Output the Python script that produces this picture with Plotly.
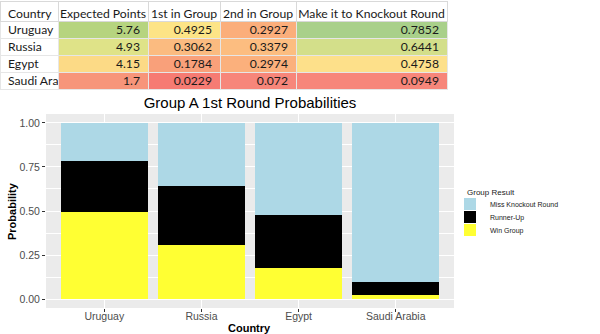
import plotly.graph_objects as go

# ---- data ----
countries = ["Uruguay", "Russia", "Egypt", "Saudi Arabia"]
expected_points = [5.76, 4.93, 4.15, 1.7]
first_in_group = [0.4925, 0.3062, 0.1784, 0.0229]
second_in_group = [0.2927, 0.3379, 0.2974, 0.072]
knockout = [0.7852, 0.6441, 0.4758, 0.0949]
miss_knockout = [0.2148, 0.3559, 0.5242, 0.9051]
table_headers = ["Country", "Expected Points", "1st in Group", "2nd in Group", "Make it to Knockout Round"]

# conditional-format colours
ep_colors = ["#b6d47f", "#dfe388", "#fcda86", "#f7957a"]
first_colors = ["#fde486", "#fbbb80", "#f9a07a", "#f67b73"]
second_colors = ["#fbae7b", "#fcbd80", "#fbb07c", "#f7867a"]
ko_colors = ["#a9d08a", "#d3df8a", "#fde08a", "#f7867a"]

W, H = 600, 334
def px(x):
    return x / W
def py(y):
    return (H - y) / H

NBSP = "\u00a0"
header_text = [h.replace(" ", NBSP) for h in table_headers]
country_text = [c.replace(" ", NBSP) for c in countries]
col_widths = [58, 90, 72, 76, 151]
tfont = dict(family="Lato", size=12.2, color="#1a1a1a")
clear = "rgba(0,0,0,0)"

fig = go.Figure()

# ---- table: header text + conditional-format fills ----
fig.add_trace(go.Table(
    domain=dict(x=[0, px(447)], y=[py(95), py(1)]),
    columnwidth=col_widths,
    header=dict(
        values=header_text,
        height=20,
        fill_color="white",
        line=dict(color="#d9d9d9", width=1),
        align=["left", "center", "center", "center", "center"],
        font=tfont,
    ),
    cells=dict(
        values=[[""] * 4] * 5,
        height=17,
        fill_color=[["white"] * 4, ep_colors, first_colors, second_colors, ko_colors],
        line=dict(color="#e6e6e6", width=1),
        font=tfont,
    ),
))

# ---- table: cell values (overlaid, slightly raised to centre the text) ----
fig.add_trace(go.Table(
    domain=dict(x=[0, px(447)], y=[py(95), py(1)]),
    columnwidth=col_widths,
    header=dict(values=[""] * 5, height=16, fill_color=clear,
                line=dict(color=clear, width=0), font=tfont),
    cells=dict(
        values=[country_text, expected_points, first_in_group, second_in_group, knockout],
        height=17,
        fill_color=clear,
        line=dict(color=clear, width=0),
        align=["left", "right", "right", "right", "right"],
        font=tfont,
    ),
))

# ---- stacked bars ----
fig.add_trace(go.Bar(x=countries, y=first_in_group, name="Win Group",
                     marker=dict(color="#ffff33", line=dict(width=0)), legend="legend3"))
fig.add_trace(go.Bar(x=countries, y=second_in_group, name="Runner-Up",
                     marker=dict(color="#000000", line=dict(width=0)), legend="legend2"))
fig.add_trace(go.Bar(x=countries, y=miss_knockout, name="Miss Knockout Round",
                     marker=dict(color="#add8e6", line=dict(width=0)), legend="legend"))

leg_common = dict(xanchor="left", yanchor="middle", bgcolor="rgba(0,0,0,0)",
                  font=dict(family="Liberation Sans", size=7, color="#1a1a1a"),
                  borderwidth=0)

fig.update_layout(
    width=W, height=H,
    margin=dict(l=0, r=0, t=0, b=0),
    paper_bgcolor="white",
    plot_bgcolor="#ebebeb",
    barmode="stack",
    bargap=0.1,
    showlegend=True,
    legend=dict(x=px(450), y=py(204), **leg_common),
    legend2=dict(x=px(450), y=py(217), **leg_common),
    legend3=dict(x=px(450), y=py(230), **leg_common),
    title=dict(text="Group A 1st Round Probabilities", x=px(250), xanchor="center",
               xref="paper", yref="paper", y=py(103), yanchor="middle",
               font=dict(family="Liberation Sans", size=15, color="#000000")),
    xaxis=dict(domain=[px(46), px(454)], range=[-0.6, 3.6], type="category",
               showgrid=True, gridcolor="white", gridwidth=1.1,
               ticks="outside", ticklen=3, tickcolor="#333333", tickwidth=1,
               ticklabelstandoff=-5,
               tickfont=dict(family="Liberation Sans", size=10.5, color="#4d4d4d"),
               showline=False, zeroline=False, fixedrange=True),
    yaxis=dict(domain=[py(308), py(114)], range=[-0.05, 1.05],
               tickvals=[0, 0.25, 0.5, 0.75, 1.0], tickformat=".2f",
               showgrid=True, gridcolor="white", gridwidth=1.1,
               minor=dict(dtick=0.125, tick0=0.125, showgrid=True, gridcolor="white", gridwidth=0.5),
               ticks="outside", ticklen=3, tickcolor="#333333", tickwidth=1,
               tickfont=dict(family="Liberation Sans", size=10.5, color="#4d4d4d"),
               showline=False, zeroline=False, fixedrange=True),
    annotations=[
        dict(text="<b>Probability</b>", x=px(12), y=py(211), xref="paper", yref="paper",
             textangle=-90, showarrow=False, xanchor="center", yanchor="middle",
             font=dict(family="Liberation Sans", size=11, color="#000000")),
        dict(text="<b>Country</b>", x=px(249), y=py(328), xref="paper", yref="paper",
             showarrow=False, xanchor="center", yanchor="middle",
             font=dict(family="Liberation Sans", size=11, color="#000000")),
        dict(text="Group Result", x=px(467), y=py(192), xref="paper", yref="paper",
             showarrow=False, xanchor="left", yanchor="middle", xshift=-2,
             font=dict(family="Liberation Sans", size=8, color="#1a1a1a")),
    ],
)

fig.write_html("out.html")
